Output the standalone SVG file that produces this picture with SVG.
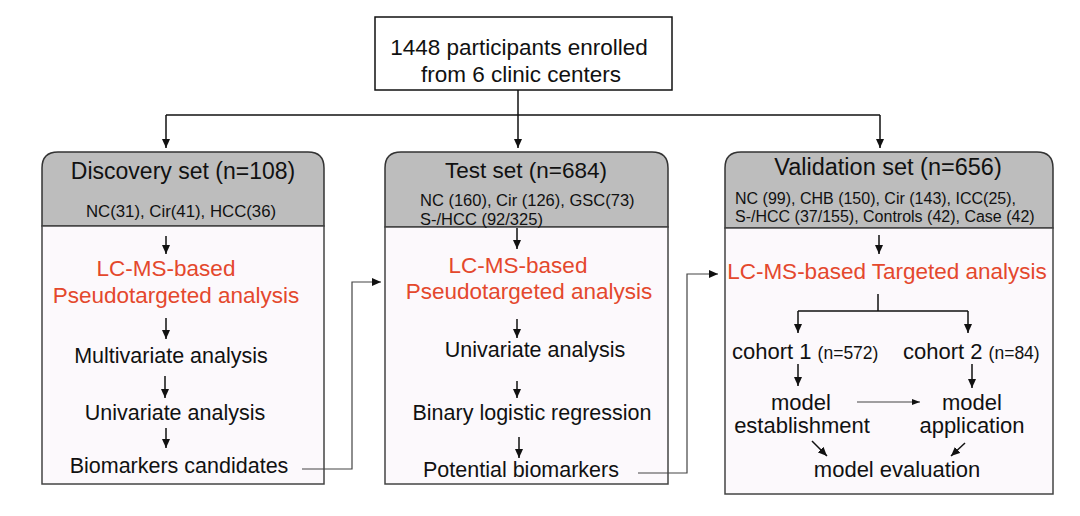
<svg xmlns="http://www.w3.org/2000/svg" width="1080" height="516" viewBox="0 0 1080 516">
<defs>
<marker id="ah" markerWidth="9" markerHeight="8" refX="9" refY="4" orient="auto" markerUnits="userSpaceOnUse"><path d="M0,0 L9,4 L0,8 z" fill="#111"/></marker>
<marker id="ahs" markerWidth="8" markerHeight="6" refX="8" refY="3" orient="auto" markerUnits="userSpaceOnUse"><path d="M0,0 L8,3 L0,6 z" fill="#111"/></marker>
</defs>
<style>
.hdr{fill:#bdbdbd;stroke:#333;stroke-width:1.5}
.body{fill:#fcf9fc;stroke:#444;stroke-width:1.5}
.t{font-family:"Liberation Sans",Arial,sans-serif;fill:#111}
.red{font-family:"Liberation Sans",Arial,sans-serif;fill:#e4482d}
.ln{fill:none;stroke:#111;stroke-width:1.5}
.thin{fill:none;stroke:#444;stroke-width:1.2}
</style>
<rect width="1080" height="516" fill="#fff"/>
<g id="top">
<rect x="375" y="17" width="297" height="73" fill="#fff" stroke="#111" stroke-width="1.5"/>
<text class="t" x="519" y="55" font-size="22.5" text-anchor="middle">1448 participants enrolled</text>
<text class="t" x="521" y="82" font-size="22.5" text-anchor="middle">from 6 clinic centers</text>
</g>
<g id="discovery">
<path class="hdr" d="M42,226 V168 Q42,152 58,152 H308 Q324,152 324,168 V226 Z"/>
<rect class="body" x="42" y="226" width="282" height="258"/>
<text class="t" x="183" y="179" font-size="23" text-anchor="middle">Discovery set (n=108)</text>
<text class="t" x="181" y="217" font-size="16.8" text-anchor="middle">NC(31), Cir(41), HCC(36)</text>
<text class="red" x="166" y="276" font-size="22.5" text-anchor="middle">LC-MS-based</text>
<text class="red" x="176" y="303" font-size="22.5" text-anchor="middle">Pseudotargeted analysis</text>
<text class="t" x="171" y="363" font-size="21.5" text-anchor="middle">Multivariate analysis</text>
<text class="t" x="175" y="420" font-size="21.5" text-anchor="middle">Univariate analysis</text>
<text class="t" x="179" y="473" font-size="21.5" text-anchor="middle">Biomarkers candidates</text>
</g>
<g id="test">
<path class="hdr" d="M385,227 V168 Q385,152 401,152 H652 Q668,152 668,168 V227 Z"/>
<rect class="body" x="385" y="227" width="283" height="257"/>
<text class="t" x="526" y="178" font-size="22.5" text-anchor="middle">Test set (n=684)</text>
<text class="t" x="420" y="206" font-size="16.5">NC (160), Cir (126), GSC(73)</text>
<text class="t" x="420" y="225" font-size="16.5">S-/HCC (92/325)</text>
<text class="red" x="518" y="273" font-size="22.5" text-anchor="middle">LC-MS-based</text>
<text class="red" x="529" y="299" font-size="22.5" text-anchor="middle">Pseudotargeted analysis</text>
<text class="t" x="535" y="357" font-size="21.5" text-anchor="middle">Univariate analysis</text>
<text class="t" x="532" y="420" font-size="21.5" text-anchor="middle">Binary logistic regression</text>
<text class="t" x="521" y="477" font-size="21.5" text-anchor="middle">Potential biomarkers</text>
</g>
<g id="validation">
<path class="hdr" d="M725,228 V168 Q725,152 741,152 H1037 Q1053,152 1053,168 V228 Z"/>
<rect class="body" x="725" y="228" width="328" height="266"/>
<text class="t" x="888" y="175" font-size="23.5" text-anchor="middle">Validation set (n=656)</text>
<text class="t" x="735" y="204" font-size="16">NC (99), CHB (150), Cir (143), ICC(25),</text>
<text class="t" x="735" y="222" font-size="16">S-/HCC (37/155), Controls (42), Case (42)</text>
<text class="red" x="887" y="279" font-size="22.5" text-anchor="middle">LC-MS-based Targeted analysis</text>
<text class="t" x="732" y="359" font-size="22">cohort 1 <tspan font-size="17.5">(n=572)</tspan></text>
<text class="t" x="903" y="359" font-size="22">cohort 2 <tspan font-size="17.5">(n=84)</tspan></text>
<text class="t" x="801" y="410" font-size="22" text-anchor="middle">model</text>
<text class="t" x="802" y="433" font-size="22" text-anchor="middle">establishment</text>
<text class="t" x="972" y="410" font-size="22" text-anchor="middle">model</text>
<text class="t" x="972" y="433" font-size="22" text-anchor="middle">application</text>
<text class="t" x="897" y="477" font-size="22" text-anchor="middle">model evaluation</text>
</g>
<g id="connectors">
<path class="ln" d="M518,90 V115"/>
<path class="ln" d="M166,115 H880"/>
<path class="ln" d="M166,115 V148" marker-end="url(#ah)"/>
<path class="ln" d="M518,115 V148" marker-end="url(#ah)"/>
<path class="ln" d="M880,115 V148" marker-end="url(#ah)"/>
<path class="ln" d="M166,236 V254" marker-end="url(#ah)"/>
<path class="ln" d="M166,318 V339" marker-end="url(#ah)"/>
<path class="ln" d="M165,376 V398" marker-end="url(#ah)"/>
<path class="ln" d="M166,428 V448" marker-end="url(#ah)"/>
<path class="thin" d="M302,469 H352 V282 H381" marker-end="url(#ah)"/>
<path class="ln" d="M517,228 V249" marker-end="url(#ah)"/>
<path class="ln" d="M517,319 V338" marker-end="url(#ah)"/>
<path class="ln" d="M517,381 V398" marker-end="url(#ah)"/>
<path class="ln" d="M519,437 V458" marker-end="url(#ah)"/>
<path class="thin" d="M638,473 H687 V274 H718" marker-end="url(#ah)"/>
<path class="ln" d="M879,235 V254" marker-end="url(#ah)"/>
<path class="ln" d="M878,294 V311"/>
<path class="ln" d="M798,311 H968"/>
<path class="ln" d="M798,311 V333" marker-end="url(#ah)"/>
<path class="ln" d="M968,311 V333" marker-end="url(#ah)"/>
<path class="ln" d="M798,364 V386" marker-end="url(#ah)"/>
<path class="ln" d="M972,364 V388" marker-end="url(#ah)"/>
<path class="thin" d="M857,402 H920" marker-end="url(#ahs)"/>
<path class="ln" d="M812,441 L827,456" marker-end="url(#ah)"/>
<path class="ln" d="M965,443 L951,456" marker-end="url(#ah)"/>
</g>
</svg>
